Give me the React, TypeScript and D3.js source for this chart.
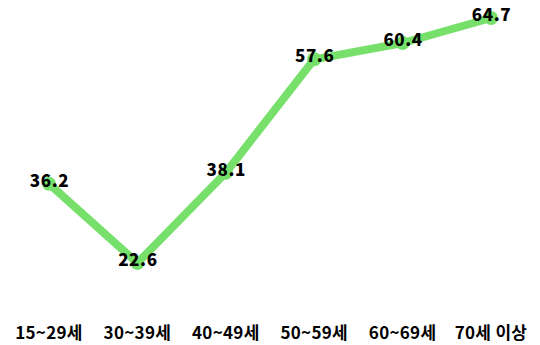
import React from "react";
import * as d3 from "d3";

const categories = ["15~29세", "30~39세", "40~49세", "50~59세", "60~69세", "70세 이상"];
const values = [36.2, 22.6, 38.1, 57.6, 60.4, 64.7];

const W = 540;
const H = 345;
const FONT = "'Noto Sans CJK KR', 'Noto Sans', sans-serif";
const COLOR = "#77e06b";

export default function App() {
  const x = d3.scalePoint<string>().domain(categories).range([49, 491]);
  const y = d3
    .scaleLinear()
    .domain([d3.min(values) as number, d3.max(values) as number])
    .range([263, 18]);
  const line = d3
    .line<number>()
    .x((_, i) => x(categories[i]) as number)
    .y((d) => y(d));
  return (
    <svg width={W} height={H} style={{ position: "absolute", left: 0, top: 0 }}>
      <path d={line(values) || ""} fill="none" stroke={COLOR} strokeWidth={8} strokeLinejoin="round" />
      {values.map((v, i) => (
        <circle key={"c" + i} cx={x(categories[i])} cy={y(v)} r={7} fill={COLOR} />
      ))}
      {values.map((v, i) => (
        <text
          key={"t" + i}
          x={(x(categories[i]) as number) + 0.5}
          y={y(v) - 3}
          dy="0.35em"
          textAnchor="middle"
          fontFamily={FONT}
          fontWeight={900}
          fontSize={17}
          letterSpacing={0.6}
          fill="#000"
        >
          {v.toFixed(1)}
        </text>
      ))}
      {categories.map((c, i) => (
        <text
          key={"x" + i}
          x={x(c)}
          y={333}
          dy="0.35em"
          textAnchor="middle"
          fontFamily={FONT}
          fontWeight={700}
          fontSize={17}
          letterSpacing={0.3}
          fill="#000"
        >
          {c}
        </text>
      ))}
    </svg>
  );
}
